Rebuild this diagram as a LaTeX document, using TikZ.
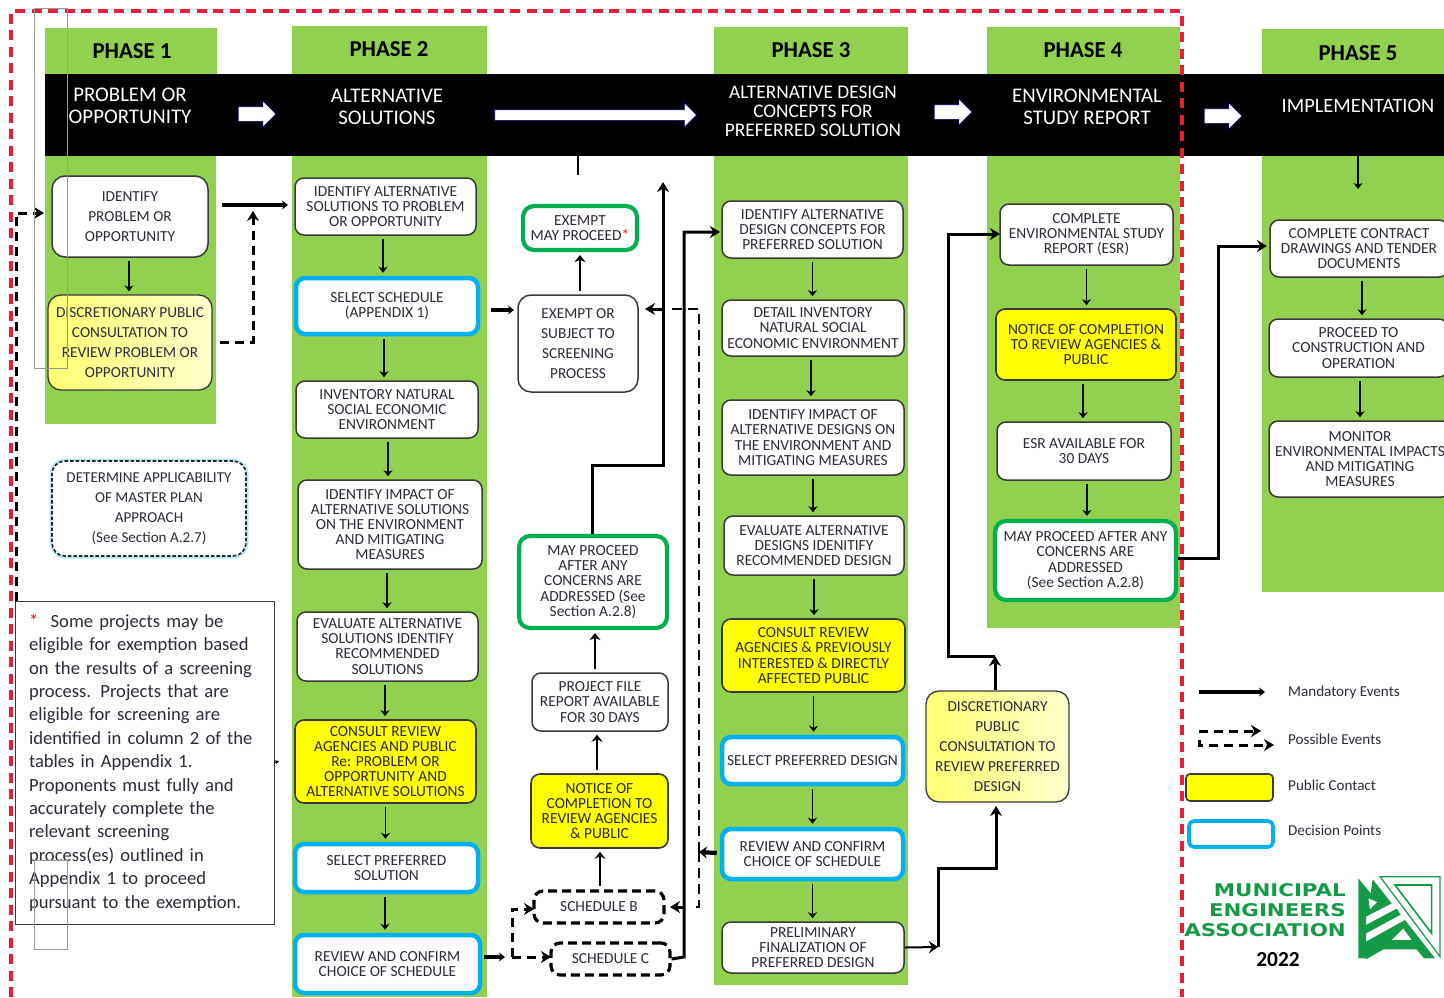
\documentclass[tikz,border=0pt]{standalone}
\usepackage{fontspec}
\usepackage{graphicx}
\setmainfont{Carlito}
\newfontfamily\logofont{DejaVu Sans}
\usetikzlibrary{arrows.meta,shapes.arrows,calc}
\definecolor{phasegreen}{HTML}{92D050}
\definecolor{decblue}{HTML}{00B0F0}
\definecolor{okgreen}{HTML}{00B050}
\definecolor{redline}{HTML}{ED1C34}
\definecolor{pubyellow}{HTML}{FFFF00}
\definecolor{inkdark}{HTML}{2B2B3B}
\definecolor{edge}{HTML}{3A3A3A}
\definecolor{logogreen}{HTML}{159A48}
\tikzset{
  x=1pt,y=-1pt,
  phasecol/.style={fill=phasegreen,draw=none},
  boxbase/.style={rectangle,rounded corners=9pt,align=center,text=inkdark,inner sep=0pt,
    font=\fontsize{15.4}{15.2}\selectfont},
  plainbox/.style={boxbase,draw=edge,line width=1.5pt,fill=white},
  widebox/.style={plainbox,font=\fontsize{15.3}{20}\selectfont,rounded corners=13pt},
  pubbox/.style={boxbase,draw=edge,line width=1.6pt,fill=pubyellow},
  paleyellow/.style={boxbase,draw=edge,line width=1.3pt,left color=yellow!55,right color=yellow!20,
    font=\fontsize{15.3}{20}\selectfont,rounded corners=13pt},
  decbox/.style={boxbase,draw=decblue,line width=4.5pt,fill=white},
  okbox/.style={boxbase,draw=okgreen,line width=4.2pt,fill=white,rounded corners=11pt},
  dashbox/.style={boxbase,draw=black,line width=3.2pt,dash pattern=on 9pt off 5pt,fill=white},
  masterbox/.style={boxbase,draw=black!85,line width=1.6pt,dash pattern=on 3.5pt off 2pt,fill=white,
    preaction={draw=decblue!30,line width=5pt,solid},rounded corners=13pt,font=\fontsize{15.1}{20}\selectfont},
  notebox/.style={rectangle,draw=edge,line width=1pt,fill=white,inner sep=0pt,align=left,text=inkdark,
    font=\fontsize{18.6}{23.4}\selectfont},
  phasehead/.style={font=\fontsize{22.8}{24}\selectfont\bfseries,text=black,inner sep=0pt},
  bandtext/.style={align=center,text=white,inner sep=0pt,font=\fontsize{20.8}{22}\selectfont},
  bandtextsm/.style={align=center,text=white,inner sep=0pt,font=\fontsize{19.3}{19}\selectfont},
  legendtext/.style={anchor=west,text=inkdark,inner sep=0pt,font=\fontsize{15.1}{15}\selectfont},
  logotext/.style={anchor=east,text=logogreen,inner sep=0pt,font=\logofont\fontsize{17.5}{20}\selectfont\bfseries},
  bandarrow/.style={single arrow,draw=blue!45!black,line width=.7pt,fill=white,inner xsep=0pt,inner ysep=7pt,
    single arrow head extend=6pt},
  thinarr/.style={draw=black,line width=1.5pt,-{Stealth[length=6pt,width=9pt]},shorten >=3pt,shorten <=3pt},
  uparr/.style={thinarr,line width=2.1pt,-{Stealth[length=7pt,width=11pt]}},
  midarr/.style={draw=black,line width=3pt,-{Stealth[length=10pt,width=12pt]}},
  heavyarr/.style={draw=black,line width=4.2pt,-{Stealth[length=6pt,width=9pt]}},
  heavyline/.style={draw=black,line width=4.2pt},
  midline/.style={draw=black,line width=3pt},
  dasharr/.style={draw=black,line width=3pt,dash pattern=on 9pt off 6pt,-{Stealth[length=10pt,width=12pt]}},
  dashline/.style={draw=black,line width=2.5pt,dash pattern=on 10pt off 6pt},
  redframe/.style={draw=redline,line width=4pt,dash pattern=on 10pt off 6.5pt},
  grayframe/.style={draw=black!40,line width=1pt},
}
\newcommand{\bx}[7]{\node[#6,minimum width={(#4-#2)*1pt},minimum height={(#5-#3)*1pt}] (#1) at ({(#2+#4)/2},{(#3+#5)/2}) {#7};}
\newcommand{\dn}[3]{\draw[thinarr] ([xshift=#3pt]#1.south) -- ([xshift=#3pt]#1.south |- #2.north);}
\newcommand{\up}[3]{\draw[uparr] ([xshift=#3pt]#1.north) -- ([xshift=#3pt]#1.north |- #2.south);}
\begin{document}
\begin{tikzpicture}
\useasboundingbox (0,0) rectangle (1444,997);
\clip (0,0) rectangle (1444,997);
% green columns
\fill[phasecol] (45,28) rectangle (217,80);
\fill[phasecol] (45,150) rectangle (216,424);
\fill[phasecol] (292,26) rectangle (487,997);
\fill[phasecol] (714,27) rectangle (908,985);
\fill[phasecol] (987,27) rectangle (1180,628);
\fill[phasecol] (1262,29) rectangle (1444,592);
% black band
\fill[black] (45,74) rectangle (1444,156);
% headers
\node[phasehead] (h1) at (132,51) {PHASE 1};
\node[phasehead] (h2) at (389,49) {PHASE 2};
\node[phasehead] (h3) at (811,50) {PHASE 3};
\node[phasehead] (h4) at (1083,50) {PHASE 4};
\node[phasehead] (h5) at (1358,53) {PHASE 5};
\node[bandtext] (t1) at (130,106) {PROBLEM OR\\OPPORTUNITY};
\node[bandtext] (t2) at (387,107) {ALTERNATIVE\\SOLUTIONS};
\node[bandtextsm] (t3) at (813,111) {ALTERNATIVE DESIGN\\CONCEPTS FOR\\PREFERRED SOLUTION};
\node[bandtext] (t4) at (1087,107) {ENVIRONMENTAL\\STUDY REPORT};
\node[bandtext,font=\fontsize{20.4}{22}\selectfont] (t5) at (1358,106) {IMPLEMENTATION};
\node[bandarrow,minimum height=38pt] (a1) at (253.5,114) {};
\node[bandarrow,minimum height=202pt,inner ysep=5pt,single arrow head extend=7pt] (a2) at (593,115) {};
\node[bandarrow,minimum height=38pt] (a3) at (949.5,112) {};
\node[bandarrow,minimum height=38pt] (a4) at (1219.5,116) {};
% phase 1
\bx{identify}{52}{176}{208}{257}{widebox}{IDENTIFY\\PROBLEM OR\\OPPORTUNITY}
\bx{discA}{48}{295}{212}{390}{paleyellow}{DISCRETIONARY PUBLIC\\CONSULTATION TO\\REVIEW PROBLEM OR\\OPPORTUNITY}
\bx{master}{52}{461}{246}{556}{masterbox}{DETERMINE APPLICABILITY\\OF MASTER PLAN\\APPROACH\\(See Section A.2.7)}
% phase 2
\bx{pa}{295}{178}{476}{235}{plainbox}{IDENTIFY ALTERNATIVE\\SOLUTIONS TO PROBLEM\\OR OPPORTUNITY}
\bx{pb}{296}{278}{478}{334}{decbox}{SELECT SCHEDULE\\(APPENDIX 1)}
\bx{pc}{296}{381}{478}{438}{plainbox}{INVENTORY NATURAL\\SOCIAL ECONOMIC\\ENVIRONMENT}
\bx{pd}{298}{480}{482}{569}{plainbox}{IDENTIFY IMPACT OF\\ALTERNATIVE SOLUTIONS\\ON THE ENVIRONMENT\\AND MITIGATING\\MEASURES}
\bx{pe}{297}{612}{478}{681}{plainbox}{EVALUATE ALTERNATIVE\\SOLUTIONS IDENTIFY\\RECOMMENDED\\SOLUTIONS}
\bx{pf}{295}{720}{476}{803}{pubbox}{CONSULT REVIEW\\AGENCIES AND PUBLIC\\Re: PROBLEM OR\\OPPORTUNITY AND\\ALTERNATIVE SOLUTIONS}
\bx{pg}{295}{844}{478}{892}{decbox}{SELECT PREFERRED\\SOLUTION}
\bx{ph}{295}{935}{480}{993}{decbox}{REVIEW AND CONFIRM\\CHOICE OF SCHEDULE}
% middle
\bx{exempt}{523}{206}{637}{250}{okbox}{EXEMPT\\MAY PROCEED\textcolor{red}{*}}
\bx{exsub}{518}{295}{638}{392}{widebox}{EXEMPT OR\\SUBJECT TO\\SCREENING\\PROCESS}
\bx{mayB}{519}{536}{667}{628}{okbox}{MAY PROCEED\\AFTER ANY\\CONCERNS ARE\\ADDRESSED (See\\Section A.2.8)}
\bx{pfile}{532}{673}{668}{731}{plainbox}{PROJECT FILE\\REPORT AVAILABLE\\FOR 30 DAYS}
\bx{nocB}{531}{774}{668}{848}{pubbox}{NOTICE OF\\COMPLETION TO\\REVIEW AGENCIES\\\& PUBLIC}
\bx{schB}{534}{891}{664}{923}{dashbox}{SCHEDULE B}
\bx{schC}{551}{943}{670}{975}{dashbox}{SCHEDULE C}
% phase 3
\bx{qa}{722}{201}{903}{258}{plainbox}{IDENTIFY ALTERNATIVE\\DESIGN CONCEPTS FOR\\PREFERRED SOLUTION}
\bx{qb}{722}{300}{904}{356}{plainbox}{DETAIL INVENTORY\\NATURAL SOCIAL\\ECONOMIC ENVIRONMENT}
\bx{qc}{722}{400}{904}{475}{plainbox}{IDENTIFY IMPACT OF\\ALTERNATIVE DESIGNS ON\\THE ENVIRONMENT AND\\MITIGATING MEASURES}
\bx{qd}{724}{516}{904}{575}{plainbox}{EVALUATE ALTERNATIVE\\DESIGNS IDENITIFY\\RECOMMENDED DESIGN}
\bx{qe}{722}{619}{905}{692}{pubbox}{CONSULT REVIEW\\AGENCIES \& PREVIOUSLY\\INTERESTED \& DIRECTLY\\AFFECTED PUBLIC}
\bx{qf}{722}{737}{903}{784}{decbox}{SELECT PREFERRED DESIGN}
\bx{qg}{722}{829}{903}{879}{decbox}{REVIEW AND CONFIRM\\CHOICE OF SCHEDULE}
\bx{qh}{722}{922}{904}{973}{plainbox}{PRELIMINARY\\FINALIZATION OF\\PREFERRED DESIGN}
\bx{discC}{926}{691}{1069}{802}{paleyellow}{DISCRETIONARY\\PUBLIC\\CONSULTATION TO\\REVIEW PREFERRED\\DESIGN}
% phase 4
\bx{ra}{1000}{204}{1173}{265}{plainbox}{COMPLETE\\ENVIRONMENTAL STUDY\\REPORT (ESR)}
\bx{rb}{996}{309}{1176}{380}{pubbox}{NOTICE OF COMPLETION\\TO REVIEW AGENCIES \&\\PUBLIC}
\bx{rc}{997}{422}{1171}{480}{plainbox}{ESR AVAILABLE FOR\\30 DAYS}
\bx{rd}{995}{521}{1176}{600}{okbox}{MAY PROCEED AFTER ANY\\CONCERNS ARE\\ADDRESSED\\(See Section A.2.8)}
% phase 5
\bx{sa}{1270}{220}{1448}{277}{plainbox}{COMPLETE CONTRACT\\DRAWINGS AND TENDER\\DOCUMENTS}
\bx{sb}{1269}{319}{1448}{377}{plainbox}{PROCEED TO\\CONSTRUCTION AND\\OPERATION}
\bx{sc}{1269}{421}{1451}{497}{plainbox}{MONITOR\\ENVIRONMENTAL IMPACTS\\AND MITIGATING\\MEASURES}
% column arrows
\dn{identify}{discA}{-1}
\dn{pa}{pb}{-2.5}\dn{pb}{pc}{-3}\dn{pc}{pd}{1}\dn{pd}{pe}{-3}\dn{pe}{pf}{-2.5}\dn{pf}{pg}{0}\dn{pg}{ph}{-1.5}
\dn{qa}{qb}{0}\dn{qb}{qc}{-2}\dn{qc}{qd}{0}\dn{qd}{qe}{0}\dn{qe}{qf}{0}\dn{qf}{qg}{0}\dn{qg}{qh}{0}
\dn{ra}{rb}{0}\dn{rb}{rc}{-3}\dn{rc}{rd}{3}
\dn{sa}{sb}{3}\dn{sb}{sc}{1.5}
\up{pfile}{mayB}{-5}\up{nocB}{pfile}{-2.5}\up{schB}{nocB}{1}
\up{exsub}{exempt}{2}
% band connectors
\coordinate (bandA) at (578,156);
\coordinate (bandAend) at (578,175);
\draw[line width=2pt] (bandA) -- (bandAend);
\coordinate (bandB) at (1358,156);
\coordinate (bandBend) at (1358,192);
\draw[thinarr,shorten <=0pt] (bandB) -- (bandBend);
% mandatory / possible connectors
\coordinate (p1) at (222,205);
\coordinate (p2) at (288,205);
\draw[heavyarr] (p1) -- (p2);
\coordinate (c1) at (253,344);
\coordinate (c1end) at (253,211);
\draw[dasharr] (discA.east) ++(7,-0.5) -| (c1end);
\coordinate (d1) at (16,601);
\coordinate (d2) at (16,213);
\coordinate (d3) at (44,213);
\draw[dasharr] (d1) -- (d2) -- (d3);
\coordinate (e1) at (491,310);
\coordinate (e2) at (514,310);
\draw[heavyarr] (e1) -- (e2);
% may proceed up
\coordinate (f1) at (592,465);
\coordinate (f2) at (663,465);
\coordinate (f3) at (663,182);
\draw[midarr] (mayB.north -| f1) -- (f1) -- (f2) -- (f3);
% schedule C to phase 3
\coordinate (g1) at (684,957);
\coordinate (g2) at (684,232);
\coordinate (g3) at (720,232);
\draw[midarr] (schC.east) -- (g1) -- (g2) -- (g3);
% p3g feedback
\coordinate (k1) at (699,852);
\coordinate (k2) at (699,309);
\coordinate (k3) at (645,309);
\draw[heavyarr,-{Stealth[length=8pt,width=12pt]}] (qg.west) ++(-3,-1) -- (k1);
\draw[dashline] (k1) -- (k2) -- (672,309);
\draw[midarr] (665,309) -- (k3);
\coordinate (k4) at (699,907);
\coordinate (k5) at (670,907);
\draw[dashline] (k1) -- (k4) -- (691,907);
\draw[midarr] (684,907) -- (k5);
% schedule feed
\coordinate (m1) at (484,957);
\coordinate (m2) at (505,957);
\coordinate (m3) at (512,957);
\coordinate (m4) at (512,909);
\coordinate (m5) at (534,909);
\coordinate (m6) at (551,957);
\draw[heavyarr] (m1) -- (m2);
\draw[dasharr] (m3) -- (m6);
\draw[dasharr] (m3) -- (m4) -- (m5);
% qh to discC
\coordinate (n1) at (938,947);
\coordinate (n2) at (938,868);
\coordinate (n3) at (996,868);
\coordinate (n4) at (996,806);
\draw[midline,-{Stealth[length=9pt,width=12pt]},line width=2pt] (qh.east) -- (n1);
\draw[midarr] (n1) -- (n2) -- (n3) -- (n4);
% discC to ra
\coordinate (o1) at (995,656);
\coordinate (o2) at (948,656);
\coordinate (o3) at (948,234);
\coordinate (o4) at (1000,234);
\draw[midarr] (discC.north -| o1) -- (o1);
\draw[midarr] (o1) -- (o2) -- (o3) -- (o4);
% rd to sa
\coordinate (r1) at (1218,558);
\coordinate (r2) at (1218,246);
\coordinate (r3) at (1267,246);
\draw[midarr] (rd.east |- r1) -- (r1) -- (r2) -- (r3);
% note
\bx{note}{15}{601}{274}{924}{notebox,text width=231pt}{\textcolor{red}{*}\ \ Some projects may be\\eligible for exemption based\\on the results of a screening\\process. Projects that are\\eligible for screening are\\identified in column 2 of the\\tables in Appendix 1.\\Proponents must fully and\\accurately complete the\\relevant screening\\process(es) outlined in\\Appendix 1 to proceed\\pursuant to the exemption.}
\coordinate (tick) at (279,761);
\draw[line width=1pt,-{Stealth[length=4pt,width=4pt]}] (note.east) -- (tick);
% frames
\coordinate (rf1) at (11,997);
\coordinate (rf2) at (11,11);
\coordinate (rf3) at (1182,11);
\coordinate (rf4) at (1182,997);
\draw[redframe] (rf1) -- (rf2) -- (rf3) -- (rf4);
\draw[grayframe] (34,8) rectangle (67,368);
\draw[grayframe] (34,860) rectangle (67,949);
% legend
\coordinate (la) at (1199,692);
\coordinate (lb) at (1265,692);
\draw[heavyarr] (la) -- (lb);
\coordinate (lc) at (1199,731);
\coordinate (ld) at (1261,731);
\coordinate (le) at (1199,740);
\coordinate (lf) at (1199,745);
\coordinate (lg) at (1274,745);
\draw[dasharr] (lc) -- (ld);
\draw[dasharr] (le) -- (lf) -- (lg);
\node[legendtext] (lt1) at (1288,692) {Mandatory Events};
\node[legendtext] (lt2) at (1288,739) {Possible Events};
\node[legendtext] (lt3) at (1288,785) {Public Contact};
\node[legendtext] (lt4) at (1288,830) {Decision Points};
\bx{lgy}{1186}{774}{1273}{801}{pubbox,rounded corners=4pt}{}
\bx{lgb}{1189}{821}{1273}{847}{decbox,line width=3.6pt,rounded corners=5pt}{}
% logo
\node[logotext] (lo1) at (1346,890) {\scalebox{1.22}[1]{MUNICIPAL}};
\node[logotext] (lo2) at (1346,910) {\scalebox{1.22}[1]{ENGINEERS}};
\node[logotext] (lo3) at (1346,930) {\scalebox{1.22}[1]{ASSOCIATION}};
\node[inner sep=0pt,font=\fontsize{21.4}{24}\selectfont\bfseries] (yr) at (1278,960) {2022};
\begin{scope}[shift={(1350,870)},x=0.3333pt,y=-0.3333pt]
  \fill[logogreen,even odd rule] (25,25) -- (62,70) -- (68,28) -- (125,100) -- (48,140) -- (48,265) -- (25,265) -- cycle
     (55,85) -- (82,96) -- (60,118) -- cycle;
  \fill[logogreen] (48,165) -- (140,116) -- (152,134) -- (48,190) -- cycle;
  \fill[logogreen,even odd rule] (48,215) -- (165,150) -- (255,265) -- (222,265) -- (200,238) -- (100,238) -- (48,268) -- cycle
     (125,210) -- (185,210) -- (160,175) -- cycle;
  \draw[logogreen,line width=1.2pt] (90,20) -- (270,20) -- (270,260) -- cycle;
  \draw[logogreen,line width=1.6pt] (135,45) -- (245,45) -- (245,190) -- cycle;
\end{scope}
\end{tikzpicture}
\end{document}
